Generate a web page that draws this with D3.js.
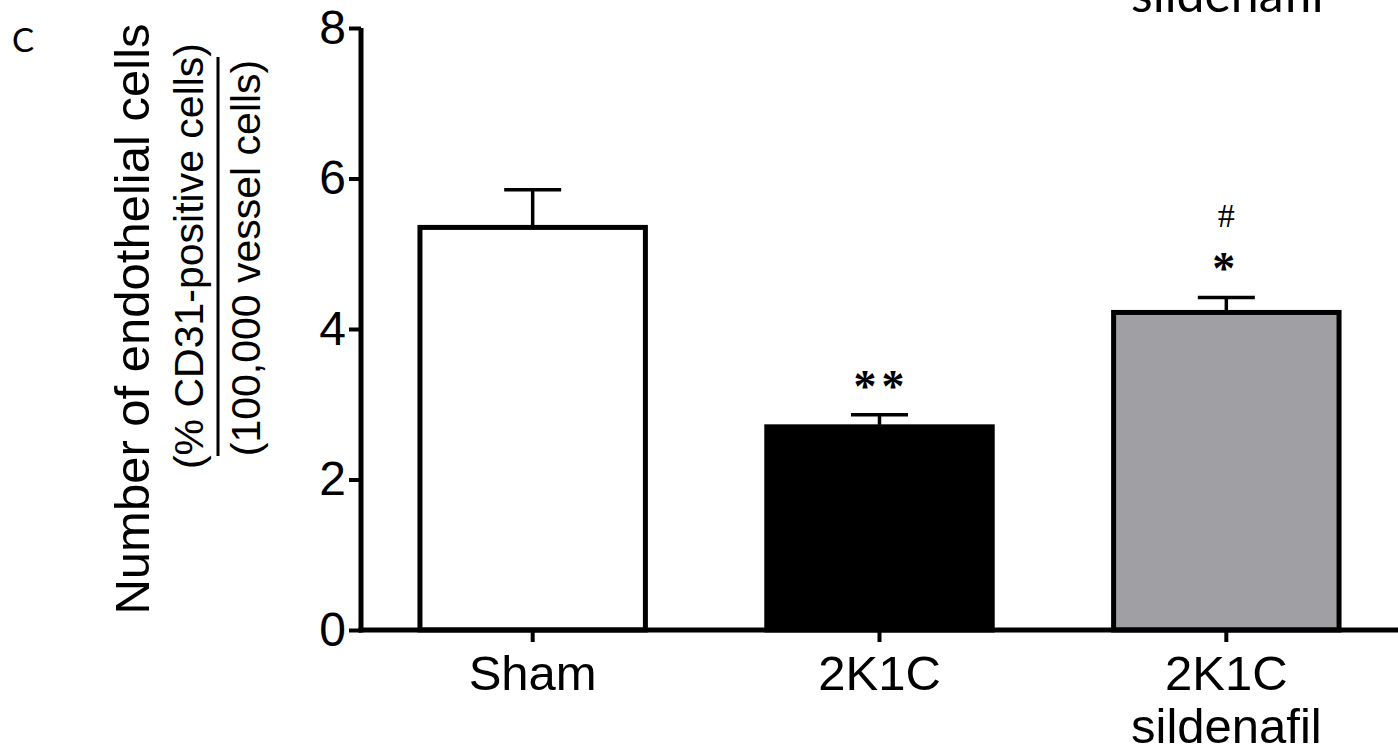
<!DOCTYPE html>
<html>
<head>
<meta charset="utf-8">
<script src="https://cdn.jsdelivr.net/npm/d3@7"></script>
<style>
  html, body { margin: 0; padding: 0; background: #fff; }
  svg { display: block; }
</style>
</head>
<body>
<div id="chart"></div>
<script>
// data
var groups = ['Sham', '2K1C', '2K1C sildenafil'];
var groupLines = [['Sham'], ['2K1C'], ['2K1C', 'sildenafil']];
var means = [5.35, 2.7, 4.22];
var sems = [0.5, 0.16, 0.2];
var fills = ['#ffffff', '#000000', '#a09fa4'];
var marks = [[], ['**'], ['#', '*']];
var yTicks = [0, 2, 4, 6, 8];
var yLabelLines = ['Number of endothelial cells', '(% CD31-positive cells)', '(100,000 vessel cells)'];

var width = 1398, height = 751;
var axisX = 361, axisY = 630;

var svg = d3.select('#chart').append('svg')
  .attr('width', width)
  .attr('height', height);

var y = d3.scaleLinear().domain([0, 8]).range([axisY, 28]);
var x = d3.scaleBand().domain(groups)
  .range([axisX, 1398])
  .paddingInner(0.35)
  .paddingOuter(0.17);

// bars
svg.selectAll('.bar')
  .data(groups)
  .enter().append('rect')
    .attr('class', 'bar')
    .attr('x', d => x(d))
    .attr('y', (d, i) => y(means[i]))
    .attr('width', x.bandwidth())
    .attr('height', (d, i) => axisY - y(means[i]))
    .attr('fill', (d, i) => fills[i])
    .attr('stroke', '#000')
    .attr('stroke-width', 5);

// error bars (upper half only)
var err = svg.selectAll('.err')
  .data(groups)
  .enter().append('g')
    .attr('class', 'err')
    .attr('transform', d => 'translate(' + (x(d) + x.bandwidth() / 2) + ',0)');

err.append('line')
  .attr('x1', 0).attr('x2', 0)
  .attr('y1', (d, i) => y(means[i]) - 2)
  .attr('y2', (d, i) => y(means[i] + sems[i]))
  .attr('stroke', '#000').attr('stroke-width', 3.5);

err.append('line')
  .attr('x1', -28.5).attr('x2', 28.5)
  .attr('y1', (d, i) => y(means[i] + sems[i]))
  .attr('y2', (d, i) => y(means[i] + sems[i]))
  .attr('stroke', '#000').attr('stroke-width', 3.5);

// significance marks above the error bars, nearest first
err.each(function(d, i){
  var g = d3.select(this);
  var top = y(means[i] + sems[i]);
  marks[i].slice().reverse().forEach(function(m, k){
    var isStar = m.indexOf('*') >= 0;
    g.append('text')
      .attr('x', isStar && m.length > 1 ? 2 : 0)
      .attr('y', k === 0 ? top - 13 : top - 70)
      .attr('text-anchor', 'middle')
      .attr('font-family', '"Liberation Serif", serif')
      .attr('font-weight', isStar ? 'bold' : 'normal')
      .attr('font-size', isStar ? 46 : 34)
      .attr('letter-spacing', isStar ? 5 : 0)
      .text(m);
  });
});

// y axis
var yAxis = svg.append('g')
  .attr('transform', 'translate(' + axisX + ',0)')
  .call(d3.axisLeft(y).tickValues(yTicks).tickSize(12).tickPadding(3).tickSizeOuter(0));
yAxis.select('.domain').attr('stroke-width', 5).attr('d', 'M0,' + (axisY + 2.5) + 'V' + y(8));
yAxis.selectAll('.tick line').attr('stroke-width', 4);
yAxis.selectAll('.tick text')
  .attr('font-family', '"Liberation Sans", Arial, sans-serif')
  .attr('font-size', 48)
  .attr('fill', '#000');

// x axis
var xAxis = svg.append('g')
  .attr('transform', 'translate(0,' + axisY + ')')
  .call(d3.axisBottom(x).tickSize(12).tickSizeOuter(0).tickFormat(''));
xAxis.select('.domain').attr('stroke-width', 5).attr('d', 'M' + (axisX - 2.5) + ',0H' + width);
xAxis.selectAll('.tick line').attr('stroke-width', 4);
xAxis.selectAll('.tick').each(function(d, i){
  var t = d3.select(this).append('text')
    .attr('text-anchor', 'middle')
    .attr('font-family', '"Liberation Sans", Arial, sans-serif')
    .attr('font-size', 49)
    .attr('fill', '#000');
  groupLines[i].forEach(function(line, k){
    t.append('tspan').attr('x', 0).attr('y', 60 + k * 53).text(line);
  });
});

// y axis title, three rotated lines with a fraction bar
var yTitle = svg.append('g')
  .attr('font-family', '"Liberation Sans", Arial, sans-serif')
  .attr('text-anchor', 'middle');
var titleX = [149, 203, 260];
var titleY = [319, 256, 258];
var titleSize = [49, 41, 41];
yLabelLines.forEach(function(line, k){
  yTitle.append('text')
    .attr('transform', 'translate(' + titleX[k] + ',' + titleY[k] + ') rotate(-90)')
    .attr('font-size', titleSize[k])
    .text(line);
});
svg.append('line')
  .attr('x1', 218).attr('x2', 218)
  .attr('y1', 57).attr('y2', 456)
  .attr('stroke', '#000').attr('stroke-width', 3);

// panel letter and the clipped label at the top right
svg.append('text')
  .attr('x', 12).attr('y', 52)
  .attr('font-family', 'Lato, "Open Sans", sans-serif')
  .attr('font-size', 33)
  .text('C');
svg.append('text')
  .attr('x', 1131).attr('y', 12)
  .attr('font-family', 'Lato, "Open Sans", sans-serif')
  .attr('font-size', 50)
  .text('sildenafil');
</script>
</body>
</html>
